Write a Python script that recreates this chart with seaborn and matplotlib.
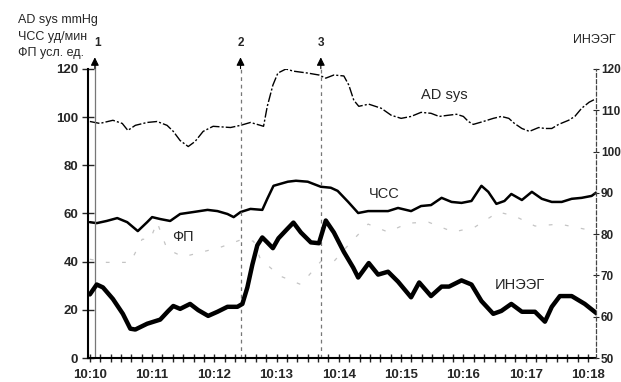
import numpy as np
import seaborn as sns
import matplotlib.pyplot as plt

# time in minutes after 10:10
ad_t = [0.0, 0.16, 0.37, 0.52, 0.61, 0.73, 0.92, 1.08, 1.24, 1.34, 1.45, 1.58, 1.69, 1.82, 1.98,
        2.26, 2.42, 2.58, 2.74, 2.79, 2.85, 2.94, 3.02, 3.15, 3.27, 3.50, 3.68, 3.79, 3.92, 4.08,
        4.16, 4.24, 4.32, 4.48, 4.68, 4.84, 5.0, 5.16, 5.32, 5.48, 5.61, 5.76, 5.89, 6.0, 6.08,
        6.16, 6.32, 6.48, 6.61, 6.73, 6.82, 6.94, 7.06, 7.21, 7.31, 7.42, 7.53, 7.69, 7.79, 7.90,
        8.02, 8.11]
ad_v = [98.2, 97.4, 98.7, 97.4, 94.5, 96.6, 97.8, 98.2, 96.6, 94.1, 90.3, 87.8, 89.9, 94.1, 96.2,
        95.7, 96.6, 97.8, 96.6, 96.2, 104.5, 113.3, 118.3, 120.0, 119.1, 118.3, 117.5, 116.2, 117.5, 117.1,
        113.3, 107.0, 104.5, 105.4, 103.7, 100.8, 99.5, 100.3, 102.0, 101.6, 100.3, 100.8, 101.2, 100.3, 98.2,
        97.0, 98.2, 99.5, 100.3, 99.5, 97.4, 95.3, 94.1, 95.7, 95.3, 95.3, 97.0, 98.7, 100.3, 103.7,
        106.2, 107.4]

hr_t = [0.0, 0.11, 0.27, 0.44, 0.60, 0.77, 0.92, 1.0, 1.13, 1.29, 1.45, 1.66, 1.89, 2.05, 2.21,
        2.31, 2.42, 2.58, 2.77, 2.85, 2.95, 3.18, 3.31, 3.50, 3.71, 3.87, 3.98, 4.15, 4.31, 4.47,
        4.79, 4.95, 5.16, 5.32, 5.48, 5.65, 5.81, 5.97, 6.13, 6.29, 6.40, 6.53, 6.66, 6.77, 6.94,
        7.10, 7.26, 7.42, 7.58, 7.74, 7.90, 8.06, 8.15]
hr_v = [56.4, 56.0, 56.9, 58.1, 56.4, 52.7, 56.4, 58.5, 57.7, 56.9, 59.8, 60.6, 61.5, 61.0, 59.8,
        58.5, 60.6, 61.9, 61.5, 66.1, 71.5, 73.2, 73.6, 73.2, 71.1, 70.7, 69.4, 64.8, 60.2, 61.0,
        61.0, 62.3, 61.0, 63.1, 63.5, 66.5, 64.8, 64.4, 65.2, 71.5, 69.0, 64.0, 65.2, 68.1, 65.6,
        69.0, 66.1, 64.8, 64.8, 66.1, 66.5, 67.3, 69.0]

fp_t = [0.0, 0.27, 0.65, 0.84, 0.97, 1.08, 1.24, 1.5, 1.8, 2.1, 2.45, 2.63, 2.74, 3.06, 3.39,
        3.71, 3.92, 4.19, 4.47, 4.79, 5.11, 5.44, 5.84, 6.18, 6.56, 6.82, 7.15, 7.55, 7.95, 8.15]
fp_v = [41.0, 39.7, 39.7, 49.3, 49.3, 56.4, 45.2, 42.0, 44.0, 46.0, 49.3, 48.5, 41.0, 34.0, 30.5,
        40.1, 40.1, 48.0, 55.6, 52.3, 56.0, 56.4, 52.3, 54.3, 60.6, 59.0, 54.8, 55.6, 53.5, 52.0]

eeg_t = [0.0, 0.11, 0.21, 0.37, 0.53, 0.65, 0.73, 0.92, 1.13, 1.26, 1.34, 1.45, 1.61, 1.74, 1.90,
         2.05, 2.21, 2.37, 2.45, 2.53, 2.61, 2.69, 2.77, 2.85, 2.94, 3.03, 3.18, 3.27, 3.39, 3.55,
         3.68, 3.79, 3.92, 4.08, 4.23, 4.31, 4.48, 4.63, 4.79, 4.95, 5.16, 5.29, 5.48, 5.65, 5.77,
         5.97, 6.13, 6.29, 6.48, 6.61, 6.77, 6.94, 7.15, 7.31, 7.42, 7.55, 7.74, 7.95, 8.15]
eeg_v = [65.4, 67.8, 67.1, 64.3, 60.7, 57.1, 56.9, 58.3, 59.3, 61.4, 62.6, 61.9, 63.1, 61.6, 60.2,
         61.2, 62.4, 62.4, 63.1, 67.1, 72.6, 77.3, 79.2, 78.0, 76.6, 79.0, 81.4, 82.8, 80.4, 78.0,
         77.8, 83.3, 80.4, 75.7, 71.9, 69.5, 73.0, 70.2, 70.9, 68.5, 64.7, 68.3, 65.0, 67.3, 67.3,
         68.8, 67.8, 63.8, 60.7, 61.4, 63.1, 61.2, 61.2, 58.8, 62.4, 65.0, 65.0, 63.1, 60.7]

markers = [0.08, 2.42, 3.71]
marker_names = ["1", "2", "3"]
time_labels = ["10:10", "10:11", "10:12", "10:13", "10:14", "10:15", "10:16", "10:17", "10:18"]

sns.set_style("white")
plt.rcParams['font.family'] = ['Liberation Sans', 'DejaVu Sans']

fig = plt.figure(figsize=(6.21, 3.82), dpi=100)
ax = fig.add_axes([0.1417, 0.0628, 0.818, 0.7566])
ax2 = ax.twinx()

sns.lineplot(x=fp_t, y=fp_v, ax=ax, color='#c4c4c4', linewidth=0.9, linestyle=(0, (3, 10)))
sns.lineplot(x=ad_t, y=ad_v, ax=ax, color='k', linewidth=1.0, linestyle=(0, (7, 1.5, 1.5, 1.5)))
sns.lineplot(x=hr_t, y=hr_v, ax=ax, color='k', linewidth=1.8)
sns.lineplot(x=eeg_t, y=eeg_v, ax=ax2, color='k', linewidth=3.2)

ax.set_xlim(-0.03, 8.13)
ax.set_ylim(0, 120)
ax2.set_ylim(50, 120)

# event markers with arrows
for i, (m, name) in enumerate(zip(markers, marker_names)):
    ls = '-' if i == 0 else (0, (3, 3))
    ax.plot([m, m], [0, 122], color='#777777', linewidth=0.9, linestyle=ls, clip_on=False)
    ax.annotate('', xy=(m, 126), xytext=(m, 119), annotation_clip=False,
                arrowprops=dict(arrowstyle='-|>', color='k', lw=0.8, mutation_scale=12))
    ax.text(m + (0.05 if i == 0 else 0), 128.5, name, ha='center', va='bottom', fontsize=8.5,
            fontweight='bold', clip_on=False)

ax.set_yticks(range(0, 121, 20))
ax2.set_yticks(range(50, 121, 10))
ax.set_xticks(range(0, 9))
ax.set_xticklabels(time_labels)
ax.set_xticks(np.arange(0, 8.1, 1 / 6), minor=True)

ax.spines['top'].set_visible(False)
ax2.spines['top'].set_visible(False)
ax.spines['right'].set_visible(False)
ax2.spines['left'].set_visible(False)
ax2.spines['bottom'].set_visible(False)
ax.spines['left'].set_linewidth(1.5)
ax.spines['bottom'].set_linewidth(1.5)
ax.spines['left'].set_color('k')
ax.spines['bottom'].set_color('k')
ax2.spines['right'].set_linestyle((0, (3, 2)))
ax2.spines['right'].set_linewidth(0.9)
ax2.spines['right'].set_color('#444444')

ax.tick_params(axis='y', direction='inout', length=8, width=1, labelsize=9.5, pad=3, left=True)
ax.tick_params(axis='x', which='both', direction='inout', length=6, width=1, labelsize=9.5,
               pad=5, bottom=True)
ax2.tick_params(axis='y', direction='inout', length=4, width=0.8, labelsize=8.5, pad=1.5, right=True)
for lab in ax.get_xticklabels() + ax.get_yticklabels() + ax2.get_yticklabels():
    lab.set_fontweight('bold')

ax.set_xlabel('')
ax.set_ylabel('')
ax2.set_ylabel('')

# axis titles
fig.text(18 / 621, 1 - 20 / 382, 'AD sys mmHg', fontsize=9, va='center', ha='left')
fig.text(18 / 621, 1 - 37 / 382, 'ЧСС уд/мин', fontsize=9, va='center', ha='left')
fig.text(18 / 621, 1 - 53 / 382, 'ФП усл. ед.', fontsize=9, va='center', ha='left')
fig.text(573 / 621, 1 - 40 / 382, 'ИНЭЭГ', fontsize=9, va='center', ha='left')

# series labels
ax.text(5.69, 109, 'AD sys', fontsize=10.5, ha='center', va='center')
ax.text(4.73, 68.1, 'ЧСС', fontsize=10.5, ha='center', va='center')
ax.text(1.5, 50.2, 'ФП', fontsize=10.5, ha='center', va='center')
ax.text(6.9, 30.5, 'ИНЭЭГ', fontsize=10.5, ha='center', va='center')

fig.savefig('out.png', dpi=100)
